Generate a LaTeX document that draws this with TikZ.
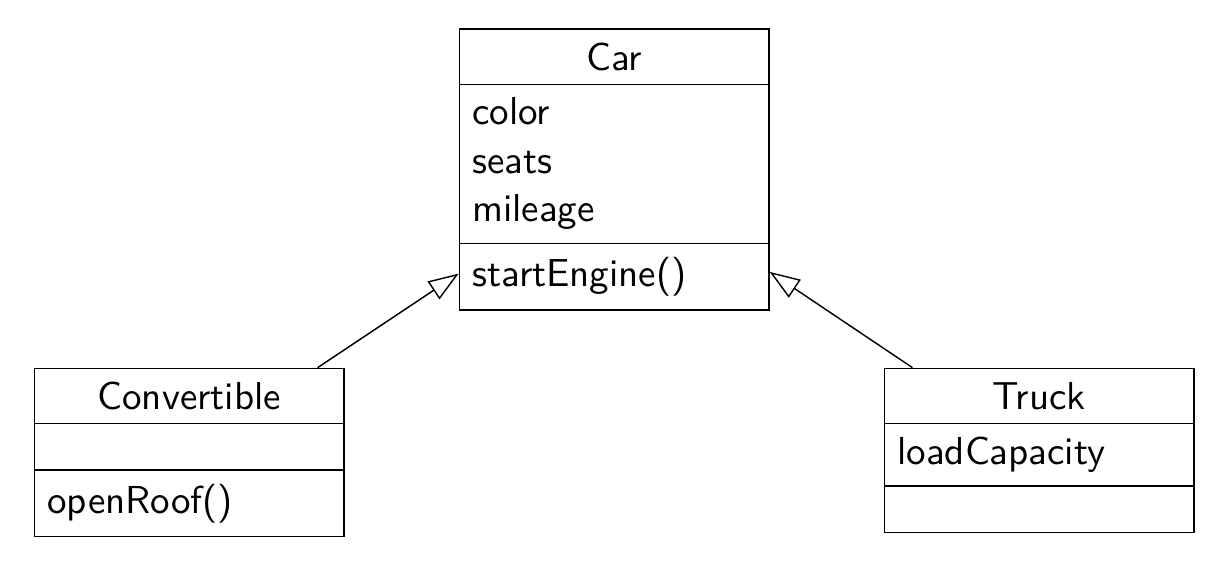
\documentclass[11pt,tikz,border=0pt]{standalone}
\usepackage{tikz}
\usetikzlibrary{
    arrows.meta,
    positioning,
    shapes.multipart
}

\newcommand{\classname}[1]{\null\hfill#1\hfill\null}
\newcommand{\emptypart}{\rule{0pt}{1.1ex}}

\tikzset{
    umlclass/.style={
        draw,
        rectangle split,
        rectangle split parts=3,
        text width=2.8cm,
        align=left,
        font=\sffamily
    }
}

\begin{document}
\begin{tikzpicture}[
    >={Triangle[open, length=8.5pt, width=6pt]}
]

\useasboundingbox (-172.5pt,7.9pt) rectangle (169.6pt,-153.9pt);

\node[
    umlclass,
    anchor=north
] (car) at (0,0) {\classname{Car}
    \nodepart{two} color\\seats\\mileage
    \nodepart{three} startEngine()};

\node[
    umlclass,
    below left=16pt and 32pt of car
] (convertible) {\classname{Convertible}
    \nodepart{two} \emptypart
    \nodepart{three} openRoof()};

\node[
    umlclass,
    below right=16pt and 32pt of car
] (truck) {\classname{Truck}
    \nodepart{two} loadCapacity
    \nodepart{three} \emptypart};

\draw[->] ([xshift=-7.6pt]convertible.north east) -- ([yshift=10.4pt]car.south west);
\draw[->] ([xshift=8.1pt]truck.north west) -- ([yshift=10.9pt]car.south east);

\end{tikzpicture}
\end{document}
